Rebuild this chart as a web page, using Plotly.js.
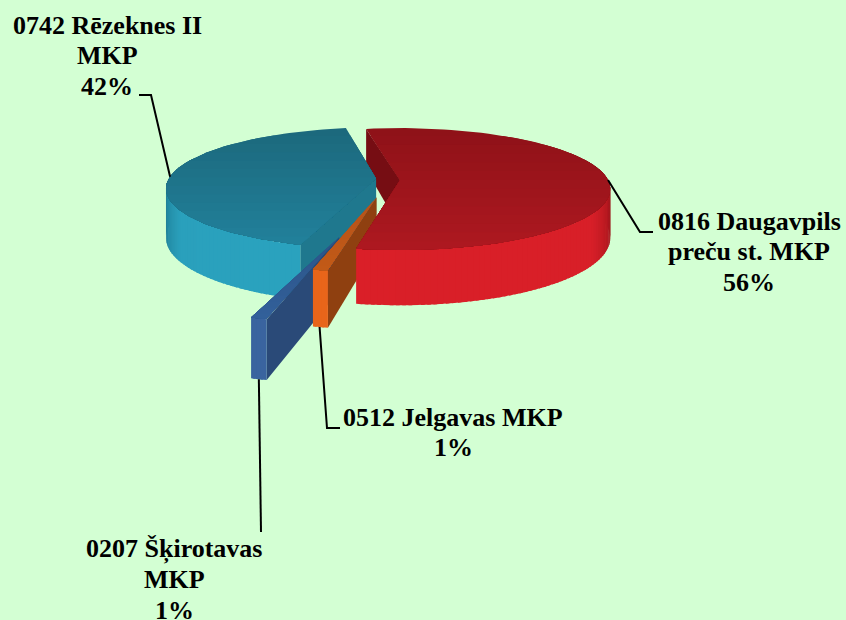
<!DOCTYPE html>
<html><head><meta charset="utf-8">
<script src="https://cdn.plot.ly/plotly-3.0.1.min.js"></script>
<style>html,body{margin:0;padding:0;background:#d3ffd3}</style></head>
<body><div id="chart" style="width:846px;height:620px"></div>
<script>
// ---- data ----
const categories = [["0816 Daugavpils","preču st. MKP"], ["0512 Jelgavas MKP"], ["0207 Šķirotavas","MKP"], ["0742 Rēzeknes II","MKP"]];
const shares = [56, 1, 1, 42];
const shareLabels = ["56%", "1%", "1%", "42%"];
const startAngle = -11;

// ---- style ----
const explodeX = [0, -0.108, -0.26, -0.115];
const explodeY = [0, 0.27, 0.83, -0.02];
const topFrom  = ["#8f1218", "#b5521a", "#2c5488", "#1c697d"];
const topTo    = ["#ad1820", "#c25a17", "#32609a", "#21809a"];
const cutWall  = ["#760d13", "#8f4010", "#2a4a78", "#1f788e"];
const wallStops = [
  [[85,"#5e0a0e"],[98,"#9c141a"],[122,"#d81f28"],[200,"#da1f28"]],
  [[0,"#e8651a"],[360,"#e8651a"]],
  [[0,"#3a649f"],[360,"#3a649f"]],
  [[190,"#2aa3bf"],[240,"#2aa0bc"],[258,"#1f8199"],[272,"#155f70"]]
];
const labelX = [749, 453, 174, 107];
const labelTop = [221, 417, 549, 25];
const lineGap = 30.5;
const leaderElbow = [[[640,232],[653,232]], [[327,428],[340,428]], [[261,532]], [[151,95],[139,95]]];
const leaderAngle = [90, 192.6, 196, 272];

// ---- projection of the tilted disc ----
const cx = 400, cy = 180, R = 208, tilt = 61, k = 0.149, H = 48;
function proj(X, Y, h) {
  const t = 1 + k * Y;
  return [cx + R * X * t, cy + tilt * Y * t + h * H * t];
}
const hexRgb = c => [1,3,5].map(i => parseInt(c.substr(i,2),16));
function mix(a, b, f) {
  const A = hexRgb(a), B = hexRgb(b);
  return "rgb(" + A.map((v,i) => Math.round(v + (B[i]-v)*f)).join(",") + ")";
}
function stopColor(stops, a) {
  if (a <= stops[0][0]) return stops[0][1];
  for (let i = 1; i < stops.length; i++)
    if (a <= stops[i][0]) return mix(stops[i-1][1], stops[i][1], (a-stops[i-1][0])/(stops[i][0]-stops[i-1][0]));
  return stops[stops.length-1][1];
}
function clipBelow(poly, yMin) {
  const out = [];
  for (let i = 0; i < poly.length; i++) {
    const p = poly[i], q = poly[(i+1)%poly.length];
    if (p[1] >= yMin) out.push(p);
    if ((p[1] >= yMin) !== (q[1] >= yMin)) {
      const f = (yMin-p[1])/(q[1]-p[1]);
      out.push([p[0]+(q[0]-p[0])*f, yMin]);
    }
  }
  return out;
}
const traces = [];
function addPoly(poly, color, name) {
  if (poly.length < 3) return;
  traces.push({type:"scatter", mode:"lines", x:poly.map(p=>p[0]).concat(poly[0][0]), y:poly.map(p=>p[1]).concat(poly[0][1]),
    fill:"toself", fillcolor:color, line:{color:color, width:0}, hoverinfo:"text", text:name, showlegend:false});
}

// slice angles come from the shares
const total = shares.reduce((a,b)=>a+b,0);
const spans = []; let acc = startAngle;
shares.forEach(s => { const a0 = acc; acc += s/total*360; spans.push([a0, acc]); });
const pt = (i, a, r, h) => {
  const rad = a*Math.PI/180;
  return proj(explodeX[i] + r*Math.sin(rad), explodeY[i] - r*Math.cos(rad), h);
};
function cutFace(i) {
  const a0 = spans[i][0];
  addPoly([pt(i,a0,0,0), pt(i,a0,1,0), pt(i,a0,1,1), pt(i,a0,0,1)], cutWall[i], categories[i].join(" "));
}
function outerAndTop(i) {
  const [a0,a1] = spans[i];
  const n = Math.max(4, Math.round((a1-a0)/1.5));
  const segs = [];
  for (let s = 0; s < n; s++) {
    const a = a0+(a1-a0)*s/n, b = a0+(a1-a0)*Math.min(n,s+1.6)/n;
    const mid = (a+b)/2;
    if (-Math.cos(mid*Math.PI/180) > -0.35) segs.push([a,b,mid]);
  }
  segs.sort((p,q)=>-Math.cos(p[2]*Math.PI/180)+Math.cos(q[2]*Math.PI/180));
  segs.forEach(([a,b,mid]) => {
    addPoly([pt(i,a,1,0),pt(i,b,1,0),pt(i,b,1,1),pt(i,a,1,1)], stopColor(wallStops[i], mid), categories[i].join(" "));
  });
  const top = [pt(i,a0,0,0)];
  for (let s = 0; s <= 80; s++) top.push(pt(i,a0+(a1-a0)*s/80,1,0));
  const ys = top.map(p=>p[1]), y0 = Math.min(...ys), y1 = Math.max(...ys);
  const bands = 14;
  for (let b = 0; b < bands; b++) {
    addPoly(clipBelow(top, y0-1+(y1-y0+1)*b/bands), mix(topFrom[i], topTo[i], b/(bands-1)), categories[i].join(" "));
  }
}
cutFace(0);
[3,2,1].forEach(i => { cutFace(i); outerAndTop(i); });
outerAndTop(0);

// leader lines
const anchors = [pt(0,leaderAngle[0],1,0), pt(1,leaderAngle[1],1,1), pt(2,leaderAngle[2],1,1), pt(3,leaderAngle[3],1,0)];
categories.forEach((c,i) => {
  const path = [anchors[i]].concat(leaderElbow[i]);
  traces.push({type:"scatter", mode:"lines", x:path.map(p=>p[0]), y:path.map(p=>p[1]),
    line:{color:"#000000", width:2}, hoverinfo:"skip", showlegend:false});
});

const annotations = [];
categories.forEach((c,i) => {
  c.concat(shareLabels[i]).forEach((line,j) => annotations.push({
    x:labelX[i], y:labelTop[i]+j*lineGap, xref:"x", yref:"y", xanchor:"center", yanchor:"middle", showarrow:false,
    align:"center", text:"<b>"+line+"</b>",
    font:{family:"Liberation Serif, Times New Roman, serif", size:26, color:"#000000"}
  }));
});

Plotly.newPlot("chart", traces, {
  width:846, height:620, margin:{l:0,r:0,t:0,b:0},
  paper_bgcolor:"#d3ffd3", plot_bgcolor:"#d3ffd3", showlegend:false,
  xaxis:{range:[0,846], visible:false, fixedrange:true},
  yaxis:{range:[620,0], visible:false, fixedrange:true},
  annotations:annotations
}, {displayModeBar:false, staticPlot:true});
</script></body></html>
